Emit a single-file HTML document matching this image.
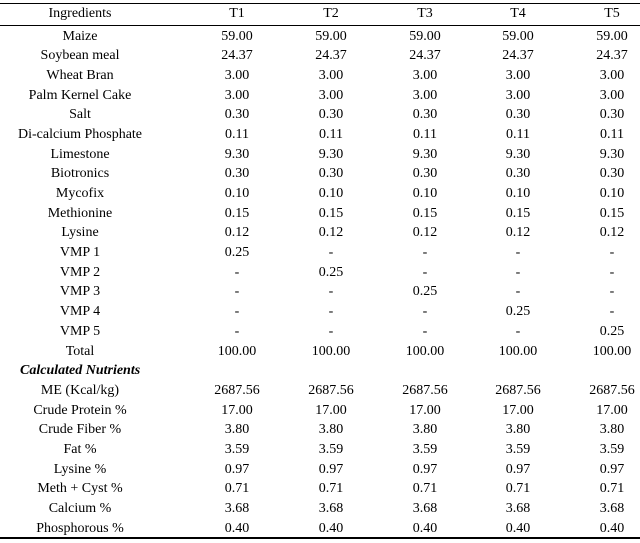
<!DOCTYPE html>
<html><head><meta charset="utf-8">
<style>
html,body{margin:0;padding:0;background:#fff;}
#tbl{position:relative;width:640px;height:543px;font-family:"Liberation Serif",serif;font-size:14px;color:#000;}
.c{position:absolute;transform:translateX(-50%);white-space:nowrap;line-height:16px;}
.line{position:absolute;left:0;width:640px;height:1px;background:#000;}
</style></head><body>
<div id="tbl">
<div class="line" style="top:3px"></div>
<div class="line" style="top:25px"></div>
<div class="line" style="top:537px;height:2px"></div>
</div>
<script>
const headers=["Ingredients","T1","T2","T3","T4","T5"];
const rows=[
["Maize","59.00","59.00","59.00","59.00","59.00"],
["Soybean meal","24.37","24.37","24.37","24.37","24.37"],
["Wheat Bran","3.00","3.00","3.00","3.00","3.00"],
["Palm Kernel Cake","3.00","3.00","3.00","3.00","3.00"],
["Salt","0.30","0.30","0.30","0.30","0.30"],
["Di-calcium Phosphate","0.11","0.11","0.11","0.11","0.11"],
["Limestone","9.30","9.30","9.30","9.30","9.30"],
["Biotronics","0.30","0.30","0.30","0.30","0.30"],
["Mycofix","0.10","0.10","0.10","0.10","0.10"],
["Methionine","0.15","0.15","0.15","0.15","0.15"],
["Lysine","0.12","0.12","0.12","0.12","0.12"],
["VMP 1","0.25","-","-","-","-"],
["VMP 2","-","0.25","-","-","-"],
["VMP 3","-","-","0.25","-","-"],
["VMP 4","-","-","-","0.25","-"],
["VMP 5","-","-","-","-","0.25"],
["Total","100.00","100.00","100.00","100.00","100.00"],
["Calculated Nutrients"],
["ME (Kcal/kg)","2687.56","2687.56","2687.56","2687.56","2687.56"],
["Crude Protein %","17.00","17.00","17.00","17.00","17.00"],
["Crude Fiber %","3.80","3.80","3.80","3.80","3.80"],
["Fat %","3.59","3.59","3.59","3.59","3.59"],
["Lysine %","0.97","0.97","0.97","0.97","0.97"],
["Meth + Cyst %","0.71","0.71","0.71","0.71","0.71"],
["Calcium %","3.68","3.68","3.68","3.68","3.68"],
["Phosphorous %","0.40","0.40","0.40","0.40","0.40"]
];
const colX=[80,237,331,425,518,612];
const t=document.getElementById('tbl');
function cell(txt,x,y,name){
  const d=document.createElement('div');
  d.className='c';d.textContent=txt;
  d.style.left=x+'px';d.style.top=y+'px';
  
  
  t.appendChild(d);return d;
}
headers.forEach((h,i)=>cell(h,colX[i],6,'header-'+h.toLowerCase()));
rows.forEach((r,ri)=>{
  const y=26+ri*19.69+2.5;
  r.forEach((v,ci)=>{
    const d=cell(v,colX[ci],y,ci==0?'row-label':'cell-value');
    if(r.length==1){d.style.fontWeight='bold';d.style.fontStyle='italic';d.style.left='20px';d.style.transform='none';}
  });
});
</script>
</body></html>
